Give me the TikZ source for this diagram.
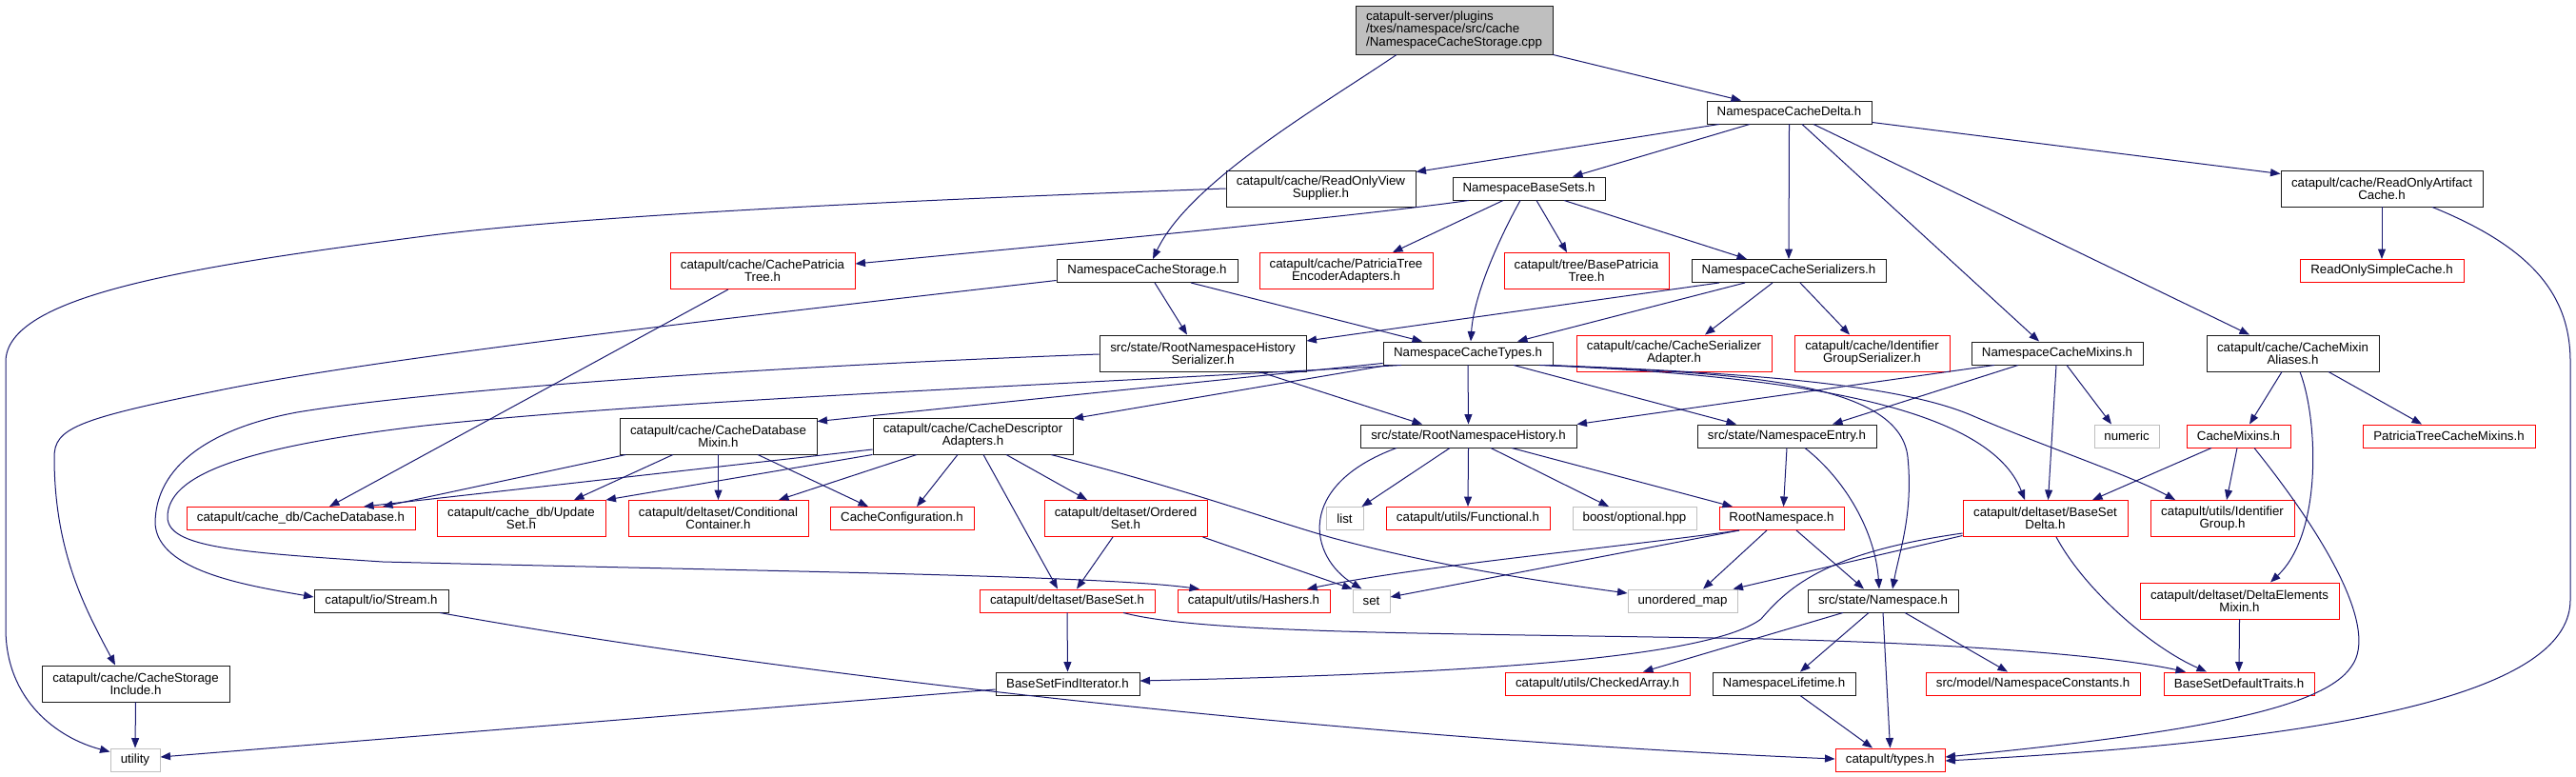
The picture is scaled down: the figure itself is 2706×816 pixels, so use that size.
\documentclass[tikz,border=0pt]{standalone}
\usepackage{fontspec}
\setmainfont{Liberation Sans}
\usetikzlibrary{arrows.meta}
\definecolor{mblue}{HTML}{191970}
\definecolor{gry}{HTML}{BFBFBF}
\definecolor{dkb}{HTML}{1A1A1A}
\tikzset{
 nbase/.style={rectangle, inner sep=0pt, line width=0.95pt, font=\fontsize{13.3}{13}\selectfont, align=center, fill=white, text=black},
 nblk/.style={nbase, draw=dkb},
 nred/.style={nbase, draw=red},
 ngry/.style={nbase, draw=gry},
 nroot/.style={nbase, draw=dkb, fill=gry, align=left, font=\fontsize{13.3}{13.5}\selectfont},
 dep/.style={draw=mblue, line width=1pt, -{Triangle[length=10.5pt,width=8pt]}}
}
\newcommand\mknode[7]{\node[#1,minimum width=#5pt,minimum height=#6pt] (#2) at (#3,#4) {#7};}
\begin{document}
\begin{tikzpicture}[x=1pt,y=-1pt]
\fill[white] (0,0) rectangle (2706,816);
\useasboundingbox (0,0) rectangle (2706,816);
% nodes
\mknode{nroot}{root}{1527.5}{31.5}{207}{51}{catapult-server/plugins\\/txes/namespace/src/cache\\/NamespaceCacheStorage.cpp}
\mknode{nblk}{delta}{1879.5}{118}{173}{24}{NamespaceCacheDelta.h}
\mknode{nblk}{rovs}{1387.5}{198}{199}{38}{catapult/cache/ReadOnlyView\\Supplier.h}
\mknode{nblk}{basesets}{1606}{198}{160}{24}{NamespaceBaseSets.h}
\mknode{nblk}{roac}{2502}{198}{212}{38}{catapult/cache/ReadOnlyArtifact\\Cache.h}
\mknode{nred}{cpt}{801}{284.5}{194}{38}{catapult/cache/CachePatricia\\Tree.h}
\mknode{nblk}{ncstor}{1205}{284.5}{190}{24}{NamespaceCacheStorage.h}
\mknode{nred}{ptea}{1414}{284.5}{182}{38}{catapult/cache/PatriciaTree\\EncoderAdapters.h}
\mknode{nred}{bpt}{1666.5}{284.5}{173}{38}{catapult/tree/BasePatricia\\Tree.h}
\mknode{nblk}{ser}{1879}{284.5}{204}{24}{NamespaceCacheSerializers.h}
\mknode{nred}{rosc}{2502}{284.5}{172}{24}{ReadOnlySimpleCache.h}
\mknode{nblk}{rnhs}{1263.5}{371}{217}{38}{src/state/RootNamespaceHistory\\Serializer.h}
\mknode{nblk}{types}{1542}{371}{178}{24}{NamespaceCacheTypes.h}
\mknode{nred}{csa}{1758.5}{371}{205}{38}{catapult/cache/CacheSerializer\\Adapter.h}
\mknode{nred}{igs}{1966.5}{371}{163}{38}{catapult/cache/Identifier\\GroupSerializer.h}
\mknode{nblk}{mixins}{2161}{371}{180}{24}{NamespaceCacheMixins.h}
\mknode{nblk}{cma}{2408.5}{371}{181}{38}{catapult/cache/CacheMixin\\Aliases.h}
\mknode{nblk}{cdm}{754.5}{458}{207}{38}{catapult/cache/CacheDatabase\\Mixin.h}
\mknode{nblk}{cda}{1022}{458}{210}{38}{catapult/cache/CacheDescriptor\\Adapters.h}
\mknode{nblk}{rnh}{1542.5}{458}{227}{24}{src/state/RootNamespaceHistory.h}
\mknode{nblk}{nentry}{1877}{458}{188}{24}{src/state/NamespaceEntry.h}
\mknode{ngry}{numeric}{2234}{458}{68}{24}{numeric}
\mknode{nred}{cmixins}{2351.5}{458}{109}{24}{CacheMixins.h}
\mknode{nred}{ptcm}{2572.5}{458}{181}{24}{PatriciaTreeCacheMixins.h}
\mknode{nred}{cdb}{316}{544.5}{240}{24}{catapult/cache\_db/CacheDatabase.h}
\mknode{nred}{upd}{547.5}{544.5}{177}{38}{catapult/cache\_db/Update\\Set.h}
\mknode{nred}{cond}{754.5}{544.5}{189}{38}{catapult/deltaset/Conditional\\Container.h}
\mknode{nred}{cconf}{947.5}{544.5}{151}{24}{CacheConfiguration.h}
\mknode{nred}{oset}{1182.5}{544.5}{171}{38}{catapult/deltaset/Ordered\\Set.h}
\mknode{ngry}{list}{1412.5}{544.5}{39}{24}{list}
\mknode{nred}{func}{1542}{544.5}{172}{24}{catapult/utils/Functional.h}
\mknode{ngry}{boost}{1717}{544.5}{130}{24}{boost/optional.hpp}
\mknode{nred}{rns}{1871.5}{544.5}{131}{24}{RootNamespace.h}
\mknode{nred}{bsd}{2148.5}{544.5}{173}{38}{catapult/deltaset/BaseSet\\Delta.h}
\mknode{nred}{idg}{2334.5}{544.5}{151}{38}{catapult/utils/Identifier\\Group.h}
\mknode{nblk}{stream}{400.5}{631}{141}{24}{catapult/io/Stream.h}
\mknode{nred}{bset}{1121}{631}{184}{24}{catapult/deltaset/BaseSet.h}
\mknode{nred}{hash}{1317}{631}{160}{24}{catapult/utils/Hashers.h}
\mknode{ngry}{set}{1440.5}{631}{39}{24}{set}
\mknode{ngry}{umap}{1767.5}{631}{115}{24}{unordered\_map}
\mknode{nblk}{ns}{1978}{631}{158}{24}{src/state/Namespace.h}
\mknode{nred}{dem}{2352.5}{631}{209}{38}{catapult/deltaset/DeltaElements\\Mixin.h}
\mknode{nblk}{csi}{142.5}{718}{197}{38}{catapult/cache/CacheStorage\\Include.h}
\mknode{nblk}{bsfi}{1121.5}{718}{151}{24}{BaseSetFindIterator.h}
\mknode{nred}{carr}{1678}{718}{194}{24}{catapult/utils/CheckedArray.h}
\mknode{nblk}{nlt}{1874}{718}{150}{24}{NamespaceLifetime.h}
\mknode{nred}{nconst}{2135.5}{718}{225}{24}{src/model/NamespaceConstants.h}
\mknode{nred}{bsdt}{2352}{718}{158}{24}{BaseSetDefaultTraits.h}
\mknode{ngry}{util}{142}{798}{52}{24}{utility}
\mknode{nred}{typesh}{1985.5}{798}{115}{24}{catapult/types.h}
% edges
\draw[dep] ([xshift=-60.5]root.south) .. controls (1390,110) and (1250,190) .. ([xshift=6]ncstor.north);
\draw[dep] (root.south east) -- ([xshift=-50.5]delta.north);
\draw[dep] ([xshift=-73.5]delta.south) -- ([yshift=-2]rovs.north east);
\draw[dep] ([xshift=-41.5]delta.south) -- ([xshift=46]basesets.north);
\draw[dep] (delta.south) -- (ser.north);
\draw[dep] ([xshift=13.5]delta.south) -- ([xshift=-19]mixins.north);
\draw[dep] ([xshift=25.5]delta.south) -- ([xshift=-45.5]cma.north);
\draw[dep] ([yshift=2]delta.south east) -- ([yshift=-4]roac.north west);
\draw[dep] (rovs.west) .. controls (900,212) and (600,228) .. (446,248) .. controls (200,280) and (6,310) .. (6,380) -- (6,660) .. controls (6,735) and (60,775) .. ([yshift=-4]util.north west);
\draw[dep] ([xshift=-63]basesets.south) .. controls (1420,228) and (1100,258) .. ([yshift=7.5]cpt.east);
\draw[dep] ([xshift=-27]basesets.south) -- ([xshift=49]ptea.north);
\draw[dep] ([xshift=8]basesets.south) -- ([xshift=-20.5]bpt.north);
\draw[dep] ([xshift=37]basesets.south) -- ([xshift=-44]ser.north);
\draw[dep] ([xshift=-9]basesets.south) .. controls (1575,250) and (1548,310) .. ([xshift=3]types.north);
\draw[dep] (roac.south) -- (rosc.north);
\draw[dep] ([xshift=53]roac.south) .. controls (2660,260) and (2700,310) .. (2700,380) -- (2700,630) .. controls (2700,720) and (2500,775) .. ([yshift=-1]typesh.east);
\draw[dep] ([yshift=-10]ncstor.west) .. controls (800,330) and (400,375) .. (230,410) .. controls (80,440) and (57,450) .. (57,480) .. controls (57,580) and (90,640) .. ([xshift=-21.5]csi.north);
\draw[dep] ([xshift=8]ncstor.south) -- ([xshift=-16.5]rnhs.north);
\draw[dep] ([xshift=46]ncstor.south) -- ([xshift=-48]types.north);
\draw[dep] ([xshift=-73]ser.south) -- ([yshift=13]rnhs.east);
\draw[dep] ([xshift=-46]ser.south) -- ([xshift=52]types.north);
\draw[dep] ([xshift=-17]ser.south) -- ([xshift=32.5]csa.north);
\draw[dep] ([xshift=12]ser.south) -- ([xshift=-23.5]igs.north);
\draw[dep] ([yshift=-1]rnhs.west) .. controls (800,385) and (450,410) .. (312,433) .. controls (220,450) and (163,490) .. (163,550) .. controls (166,600) and (260,615) .. ([yshift=4]stream.west);
\draw[dep] ([xshift=59.5]rnhs.south) -- ([xshift=-48.5]rnh.north);
\draw[dep] ([yshift=2]types.south west) -- ([yshift=-4]cdm.north east);
\draw[dep] ([xshift=-84]types.south) -- ([yshift=-1]cda.north east);
\draw[dep] ([xshift=-70]types.south) .. controls (1100,405) and (700,420) .. (446,447) .. controls (250,470) and (176,500) .. (176,543) .. controls (176,575) and (250,580) .. (402,590) .. controls (800,600) and (1150,604) .. ([xshift=-57]hash.north);
\draw[dep] ([xshift=-36]cpt.south) -- ([xshift=30]cdb.north);
\draw[dep] ([xshift=7]cdm.south west) -- ([xshift=86]cdb.north);
\draw[dep] ([xshift=-47.5]cdm.south) -- ([xshift=55.5]upd.north);
\draw[dep] (cdm.south) -- (cond.north);
\draw[dep] ([xshift=41.5]cdm.south) -- ([xshift=-35.5]cconf.north);
\draw[dep] ([yshift=-14]cda.west) -- ([xshift=66]cdb.north);
\draw[dep] (cda.south west) -- (upd.north east);
\draw[dep] ([xshift=-59]cda.south) -- ([xshift=63.5]cond.north);
\draw[dep] ([xshift=-16]cda.south) -- ([xshift=15.5]cconf.north);
\draw[dep] ([xshift=35]cda.south) -- ([xshift=-40.5]oset.north);
\draw[dep] ([xshift=11]cda.south) -- ([xshift=-10]bset.north);
\draw[dep] ([xshift=82]cda.south) .. controls (1250,515) and (1330,545) .. (1400,565) .. controls (1500,592) and (1600,608) .. ([yshift=8]umap.west);
\draw[dep] ([xshift=-13.5]oset.south) -- ([xshift=10]bset.north);
\draw[dep] ([xshift=-5]oset.south east) -- (set.north west);
\draw[dep] (bset.south) -- (bsfi.north);
\draw[dep] ([xshift=59]bset.south) .. controls (1260,665) and (1500,665) .. (1800,670) .. controls (2000,673) and (2200,685) .. ([xshift=-56]bsdt.north);
\draw[dep] ([yshift=-6]bsfi.west) -- ([yshift=3]util.east);
\draw[dep] ([xshift=61.5]stream.south) .. controls (800,705) and (1400,775) .. ([yshift=1]typesh.west);
\draw[dep] ([xshift=-75.5]rnh.south) .. controls (1360,510) and (1375,585) .. ([xshift=-10]set.north);
\draw[dep] ([xshift=-19.5]rnh.south) -- ([xshift=-2]list.north east);
\draw[dep] (rnh.south) -- (func.north);
\draw[dep] ([xshift=23.5]rnh.south) -- ([xshift=-27]boost.north);
\draw[dep] ([xshift=45.5]rnh.south) -- ([xshift=-51.5]rns.north);
\draw[dep] (nentry.south) -- ([xshift=2]rns.north);
\draw[dep] ([xshift=19]nentry.south) .. controls (1940,505) and (1970,560) .. ([xshift=-4]ns.north);
\draw[dep] (types.south) -- (rnh.north);
\draw[dep] ([xshift=48]types.south) -- ([xshift=-53]nentry.north);
\draw[dep] ([xshift=80]types.south) .. controls (1800,392) and (1995,395) .. (2004,480) .. controls (2010,540) and (1995,580) .. ([xshift=10]ns.north);
\draw[dep] ([xshift=75]types.south) .. controls (1900,395) and (2090,430) .. ([xshift=-21.5]bsd.north);
\draw[dep] ([xshift=85]types.south) .. controls (1850,392) and (2000,405) .. (2073,437) .. controls (2150,470) and (2240,500) .. ([xshift=-49.5]idg.north);
\draw[dep] ([xshift=-66]mixins.south) -- (rnh.north east);
\draw[dep] ([xshift=-41]mixins.south) -- ([xshift=48]nentry.north);
\draw[dep] ([xshift=-1]mixins.south) -- ([xshift=3]bsd.north);
\draw[dep] ([xshift=10]mixins.south) -- ([xshift=-16]numeric.north);
\draw[dep] ([xshift=-11.5]cma.south) -- ([xshift=11.5]cmixins.north);
\draw[dep] ([xshift=7.5]cma.south) .. controls (2435,440) and (2440,560) .. ([xshift=32.5]dem.north);
\draw[dep] ([xshift=37.5]cma.south) -- ([xshift=-28.5]ptcm.north);
\draw[dep] ([xshift=-28.5]cmixins.south) -- ([xshift=49.5]bsd.north);
\draw[dep] ([xshift=-1.5]cmixins.south) -- ([xshift=4.5]idg.north);
\draw[dep] ([xshift=16.5]cmixins.south) .. controls (2440,560) and (2500,660) .. (2470,700) .. controls (2440,745) and (2300,770) .. ([yshift=3]typesh.east);
\draw[dep] ([yshift=-15.5]bsd.west) .. controls (1920,580) and (1880,615) .. (1850,650) .. controls (1790,695) and (1500,708) .. ([yshift=3]bsfi.east);
\draw[dep] ([yshift=-18]bsd.west) -- ([xshift=-5]umap.north east);
\draw[dep] ([xshift=11.5]bsd.south) .. controls (2190,620) and (2260,680) .. ([xshift=-34]bsdt.north);
\draw[dep] (dem.south) -- (bsdt.north);
\draw[dep] ([xshift=-44.5]rns.south) .. controls (1700,575) and (1500,593) .. ([xshift=56]hash.north);
\draw[dep] ([xshift=-44.5]rns.south) -- ([yshift=4]set.east);
\draw[dep] ([xshift=-15.5]rns.south) -- ([xshift=21.5]umap.north);
\draw[dep] ([xshift=15.5]rns.south) -- ([xshift=-20]ns.north);
\draw[dep] ([xshift=-42]ns.south) -- ([xshift=48]carr.north);
\draw[dep] ([xshift=-15]ns.south) -- ([xshift=17]nlt.north);
\draw[dep] (ns.south) -- (typesh.north);
\draw[dep] ([xshift=23]ns.south) -- ([xshift=-26.5]nconst.north);
\draw[dep] ([xshift=17]nlt.south) -- ([xshift=-18.5]typesh.north);
\draw[dep] (csi.south) -- (util.north);
\end{tikzpicture}
\end{document}
